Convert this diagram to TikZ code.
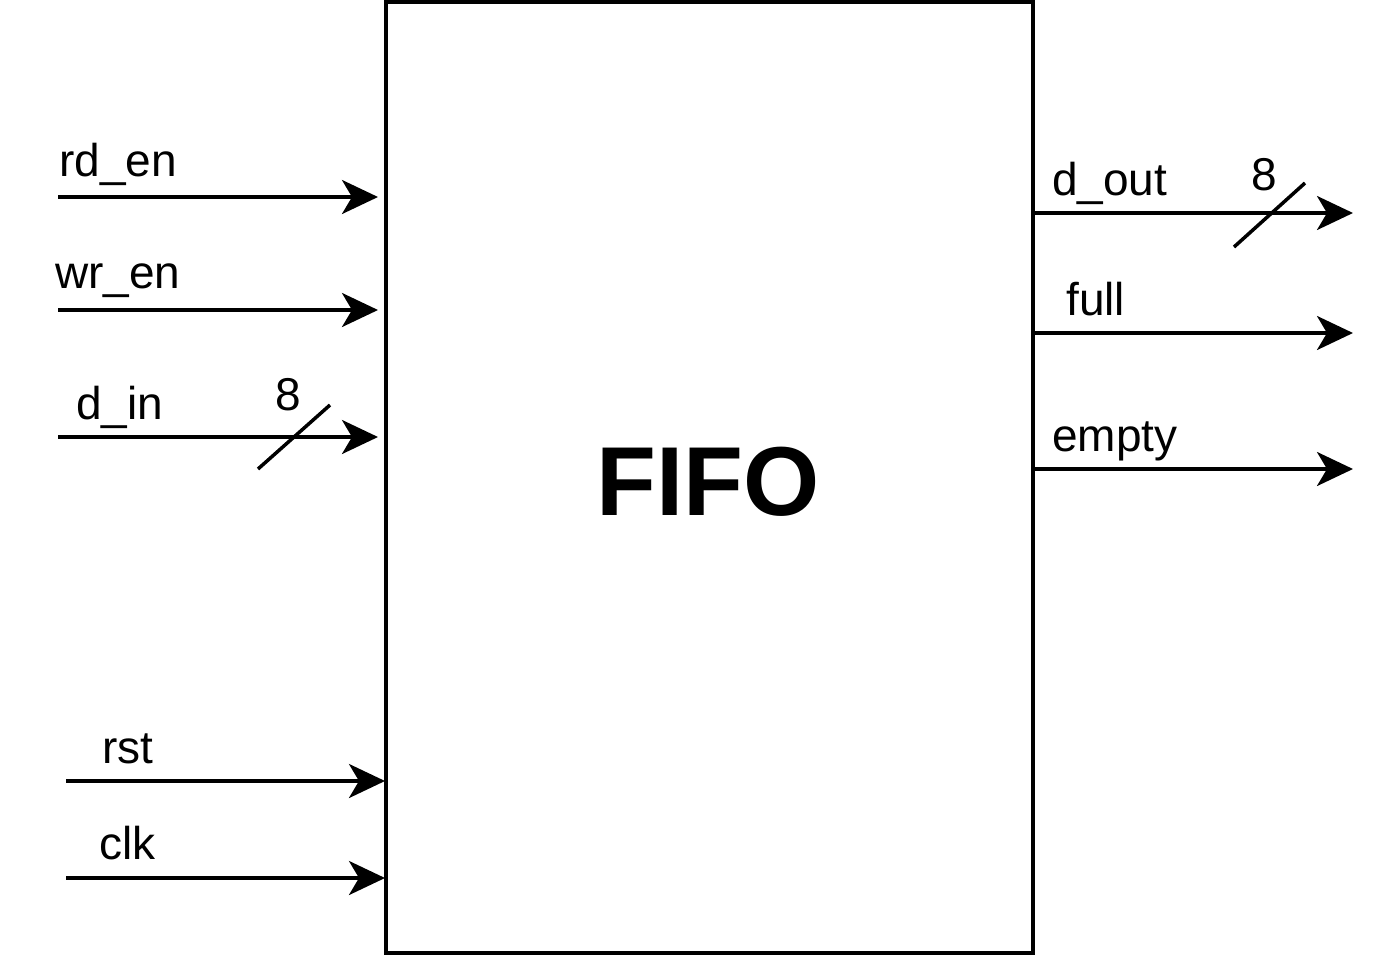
\documentclass[tikz,border=0pt]{standalone}
\usepackage{fontspec}
\setmainfont{Liberation Sans}
\usetikzlibrary{arrows.meta}
\begin{document}
\begin{tikzpicture}[x=1pt,y=-1pt,
  wire/.style={line width=3.5pt,-{Stealth[length=36pt,width=34pt,inset=10pt]}},
  lbl/.style={anchor=base west,inner sep=0pt,font=\fontsize{46}{50}\selectfont},
  bus/.style={line width=3.5pt}]
\path[use as bounding box,fill=white] (0,0) rectangle (1392,956);
\node[draw,line width=3.5pt,minimum width=647pt,minimum height=951pt,inner sep=0pt] (fifo) at (709.5,477.5) {};
\node[font=\bfseries\fontsize{98}{100}\selectfont] (title) at (708,482) {FIFO};
% left inputs
\coordinate (rds) at (58,197); \coordinate (rde) at (378,197);
\coordinate (wrs) at (58,310); \coordinate (wre) at (378,310);
\coordinate (dis) at (58,437); \coordinate (die) at (378,437);
\coordinate (rss) at (66,781); \coordinate (rse) at (385,781);
\coordinate (cks) at (66,878); \coordinate (cke) at (385,878);
\draw[wire] (rds) -- (rde);
\draw[wire] (wrs) -- (wre);
\draw[wire] (dis) -- (die);
\draw[wire] (rss) -- (rse);
\draw[wire] (cks) -- (cke);
% right outputs
\coordinate (dos) at (1033,213); \coordinate (doe) at (1353,213);
\coordinate (fus) at (1033,333); \coordinate (fue) at (1353,333);
\coordinate (ems) at (1033,469); \coordinate (eme) at (1353,469);
\draw[wire] (dos) -- (doe);
\draw[wire] (fus) -- (fue);
\draw[wire] (ems) -- (eme);
% bus slashes
\coordinate (s1a) at (258,469); \coordinate (s1b) at (330,405);
\coordinate (s2a) at (1234,247); \coordinate (s2b) at (1305,183);
\draw[bus] (s1a) -- (s1b);
\draw[bus] (s2a) -- (s2b);
% labels
\node[lbl] (l1) at (59,176) {rd\_en};
\node[lbl] (l2) at (55,288) {wr\_en};
\node[lbl] (l3) at (76,419) {d\_in};
\node[lbl] (l4) at (275,410) {8};
\node[lbl] (l5) at (102,763) {rst};
\node[lbl] (l6) at (99,859) {clk};
\node[lbl] (l7) at (1052,195) {d\_out};
\node[lbl] (l8) at (1251,190) {8};
\node[lbl] (l9) at (1066,315) {full};
\node[lbl] (l10) at (1052,451) {empty};
\end{tikzpicture}
\end{document}
